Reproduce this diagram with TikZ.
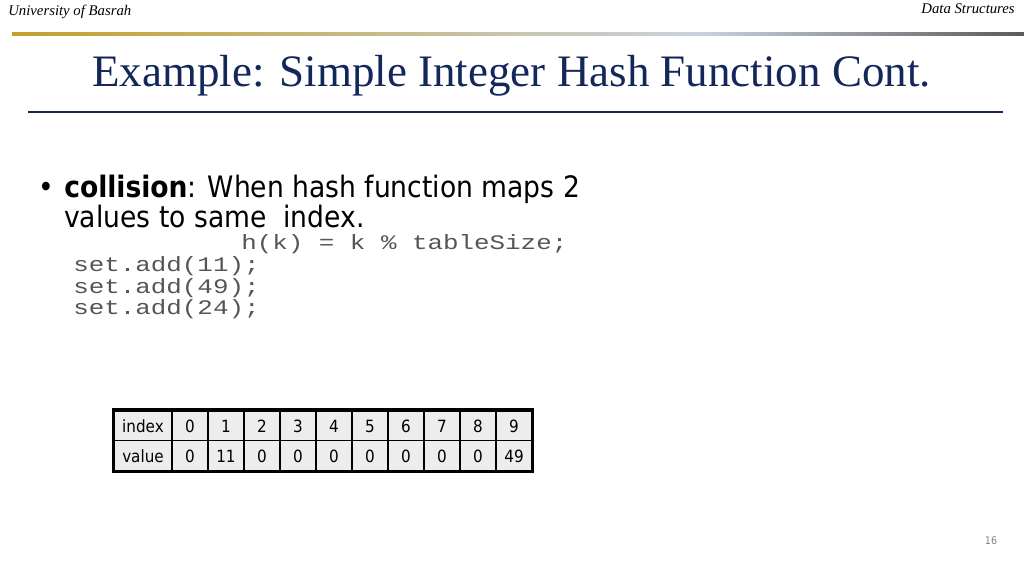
\documentclass[tikz,border=0pt]{standalone}
\usepackage{fontspec}
\usepackage{graphicx}
\setmainfont{Liberation Serif}
\setsansfont{DejaVu Sans Condensed}
\setmonofont{Liberation Mono}
\definecolor{titleblue}{HTML}{13275A}
\definecolor{hdgold}{HTML}{C4A02C}
\definecolor{hdpale}{HTML}{C9D2DE}
\definecolor{hdgray}{HTML}{5A5A5A}
\definecolor{cellgray}{HTML}{EDEDED}
\definecolor{codegray}{HTML}{555555}
\newcommand\codeline[1]{\scalebox{1}[0.8]{#1}}
\begin{document}
\begin{tikzpicture}[x=0.025cm,y=-0.025cm,
    txt/.style={inner sep=0pt,anchor=base west},
    code/.style={txt,font=\ttfamily\fontsize{18.4}{22}\selectfont,text=codegray},
    cell/.style={draw=black,line width=1pt,fill=cellgray,inner sep=0pt,
      minimum width=0.9cm,minimum height=0.75cm,text height=0.9em,text depth=0pt,
      font=\sffamily\fontsize{12}{14}\selectfont},
    labcell/.style={cell,minimum width=1.45cm}]
    \useasboundingbox (0,0) rectangle (1024,576);

    % header
    \node [txt] (uni) at (8,15.7) {\itshape\fontsize{10.5}{12}\selectfont University of Basrah};
    \node [txt,anchor=base east] (course) at (1015,13.3) {\itshape\fontsize{10.5}{12}\selectfont Data Structures};
    \shade [left color=hdgold,right color=hdpale] (12,33) rectangle (700,35.5);
    \shade [left color=hdpale,right color=hdgray] (700,33) rectangle (1024,35.5);

    % title
    \node [inner sep=0pt,anchor=base,text=titleblue,font=\fontsize{32}{38}\selectfont] (title) at (511.5,86.7) {Example: Simple Integer Hash Function Cont.};
    \draw [titleblue,line width=1.5pt] (28,112.3) -- (1003,112.3);

    % bullet text
    \node [txt,font=\sffamily\fontsize{21}{25}\selectfont] (dot) at (38,197.7) {•};
    \node [txt,font=\sffamily\fontsize{21}{25}\selectfont] (line1) at (64,197.7) {\textbf{collision}: When hash function maps 2};
    \node [txt,font=\sffamily\fontsize{21}{25}\selectfont] (line2) at (64,227.3) {values to same\ \ index.};

    % code
    \node [code] (hash) at (241,250) {\codeline{h(k) = k \% tableSize;}};
    \node [code] (add1) at (73,271.7) {\codeline{set.add(11);}};
    \node [code] (add2) at (73,293.3) {\codeline{set.add(49);}};
    \node [code] (add3) at (73,315) {\codeline{set.add(24);}};

    % table
    \node [labcell] (idx) at (143,425.7) {index};
    \node [labcell] (val) at (143,455.7) {value};
    \foreach \i/\v in {0/0,1/11,2/0,3/0,4/0,5/0,6/0,7/0,8/0,9/49} {
      \node [cell] (i\i) at (190+36*\i,425.7) {\i};
      \node [cell] (v\i) at (190+36*\i,455.7) {\v};
    }
    \draw [line width=2.2pt] (idx.north west) rectangle (v9.south east);

    % page number
    \node [inner sep=0pt,text=gray,font=\sffamily\fontsize{7.5}{9}\selectfont] (page) at (991,541) {16};
\end{tikzpicture}
\end{document}
